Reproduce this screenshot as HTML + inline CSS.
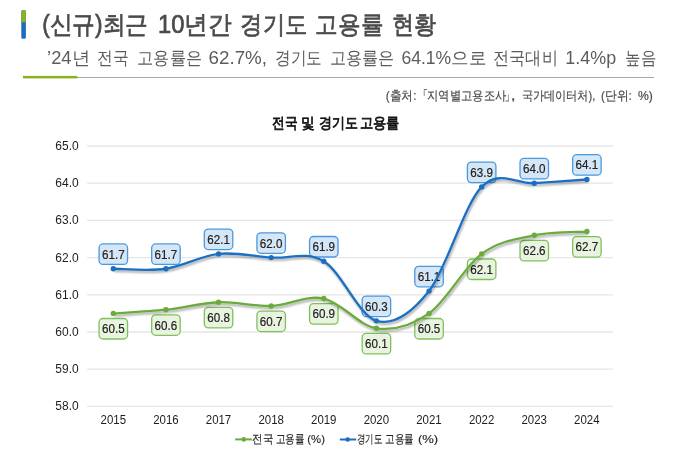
<!DOCTYPE html>
<html><head><meta charset="utf-8"><style>
html,body{margin:0;padding:0;background:#fff;width:677px;height:453px;overflow:hidden;position:relative}
svg text{font-family:"Liberation Sans",sans-serif}
svg{-webkit-font-smoothing:antialiased}
</style></head><body>
<svg width="677" height="453" viewBox="0 0 677 453" style="position:absolute;left:0;top:0;will-change:transform">
<path d="M21.3,38.7 V11.5 Q21.3,10 22.8,10 H24.4 Q25.9,10 25.9,11.5 V37.2 Q25.9,38.7 24.4,38.7 H22.8 Q21.3,38.7 21.3,37.2 Z" fill="#1c6cc0"/>
<path d="M21.3,22.3 V11.5 Q21.3,10 22.8,10 H24.4 Q25.9,10 25.9,11.5 V22.3 Z" fill="#8fb024"/>
<rect x="23" y="77" width="631" height="1" fill="#a9a9a9"/>
<rect x="23" y="75.9" width="54.3" height="2.5" fill="#8cb31f"/>
<defs><filter id="sh" x="-10%" y="-20%" width="120%" height="140%"><feGaussianBlur in="SourceAlpha" stdDeviation="0.8"/><feOffset dx="1" dy="1.6" result="o"/><feComponentTransfer><feFuncA type="linear" slope="0.35"/></feComponentTransfer><feMerge><feMergeNode/><feMergeNode in="SourceGraphic"/></feMerge></filter></defs><line x1="87.2" y1="406.40" x2="612.8" y2="406.40" stroke="#e6e6e6" stroke-width="1.3"/><text x="55.30" y="410.30" font-size="12.5" fill="#1e1e1e" textLength="23.34" lengthAdjust="spacingAndGlyphs">58.0</text><line x1="87.2" y1="369.20" x2="612.8" y2="369.20" stroke="#e6e6e6" stroke-width="1.3"/><text x="55.30" y="373.10" font-size="12.5" fill="#1e1e1e" textLength="23.34" lengthAdjust="spacingAndGlyphs">59.0</text><line x1="87.2" y1="332.00" x2="612.8" y2="332.00" stroke="#e6e6e6" stroke-width="1.3"/><text x="55.30" y="335.90" font-size="12.5" fill="#1e1e1e" textLength="23.34" lengthAdjust="spacingAndGlyphs">60.0</text><line x1="87.2" y1="294.80" x2="612.8" y2="294.80" stroke="#e6e6e6" stroke-width="1.3"/><text x="55.30" y="298.70" font-size="12.5" fill="#1e1e1e" textLength="23.34" lengthAdjust="spacingAndGlyphs">61.0</text><line x1="87.2" y1="257.60" x2="612.8" y2="257.60" stroke="#e6e6e6" stroke-width="1.3"/><text x="55.30" y="261.50" font-size="12.5" fill="#1e1e1e" textLength="23.34" lengthAdjust="spacingAndGlyphs">62.0</text><line x1="87.2" y1="220.40" x2="612.8" y2="220.40" stroke="#e6e6e6" stroke-width="1.3"/><text x="55.30" y="224.30" font-size="12.5" fill="#1e1e1e" textLength="23.34" lengthAdjust="spacingAndGlyphs">63.0</text><line x1="87.2" y1="183.20" x2="612.8" y2="183.20" stroke="#e6e6e6" stroke-width="1.3"/><text x="55.30" y="187.10" font-size="12.5" fill="#1e1e1e" textLength="23.34" lengthAdjust="spacingAndGlyphs">64.0</text><line x1="87.2" y1="146.00" x2="612.8" y2="146.00" stroke="#e6e6e6" stroke-width="1.3"/><text x="55.30" y="149.90" font-size="12.5" fill="#1e1e1e" textLength="23.34" lengthAdjust="spacingAndGlyphs">65.0</text><text x="100.54" y="423.6" font-size="12.1" fill="#1e1e1e" textLength="25.48" lengthAdjust="spacingAndGlyphs">2015</text><text x="153.16" y="423.6" font-size="12.1" fill="#1e1e1e" textLength="25.48" lengthAdjust="spacingAndGlyphs">2016</text><text x="205.78" y="423.6" font-size="12.1" fill="#1e1e1e" textLength="25.48" lengthAdjust="spacingAndGlyphs">2017</text><text x="258.40" y="423.6" font-size="12.1" fill="#1e1e1e" textLength="25.48" lengthAdjust="spacingAndGlyphs">2018</text><text x="311.02" y="423.6" font-size="12.1" fill="#1e1e1e" textLength="25.48" lengthAdjust="spacingAndGlyphs">2019</text><text x="363.64" y="423.6" font-size="12.1" fill="#1e1e1e" textLength="25.48" lengthAdjust="spacingAndGlyphs">2020</text><text x="416.26" y="423.6" font-size="12.1" fill="#1e1e1e" textLength="25.48" lengthAdjust="spacingAndGlyphs">2021</text><text x="468.88" y="423.6" font-size="12.1" fill="#1e1e1e" textLength="25.48" lengthAdjust="spacingAndGlyphs">2022</text><text x="521.50" y="423.6" font-size="12.1" fill="#1e1e1e" textLength="25.48" lengthAdjust="spacingAndGlyphs">2023</text><text x="574.12" y="423.6" font-size="12.1" fill="#1e1e1e" textLength="25.48" lengthAdjust="spacingAndGlyphs">2024</text><rect x="99.06" y="243.96" width="28.5" height="20.5" rx="4" fill="#d5e7f7" stroke="#4a99df" stroke-width="1.3"/><text x="102.00" y="258.76" font-size="12.7" fill="#222" stroke="#222" stroke-width="0.2" textLength="22.62" lengthAdjust="spacingAndGlyphs">61.7</text><rect x="151.68" y="243.96" width="28.5" height="20.5" rx="4" fill="#d5e7f7" stroke="#4a99df" stroke-width="1.3"/><text x="154.62" y="258.76" font-size="12.7" fill="#222" stroke="#222" stroke-width="0.2" textLength="22.62" lengthAdjust="spacingAndGlyphs">61.7</text><rect x="204.30" y="229.08" width="28.5" height="20.5" rx="4" fill="#d5e7f7" stroke="#4a99df" stroke-width="1.3"/><text x="207.24" y="243.88" font-size="12.7" fill="#222" stroke="#222" stroke-width="0.2" textLength="22.62" lengthAdjust="spacingAndGlyphs">62.1</text><rect x="256.92" y="232.80" width="28.5" height="20.5" rx="4" fill="#d5e7f7" stroke="#4a99df" stroke-width="1.3"/><text x="259.86" y="247.60" font-size="12.7" fill="#222" stroke="#222" stroke-width="0.2" textLength="22.62" lengthAdjust="spacingAndGlyphs">62.0</text><rect x="309.54" y="236.52" width="28.5" height="20.5" rx="4" fill="#d5e7f7" stroke="#4a99df" stroke-width="1.3"/><text x="312.48" y="251.32" font-size="12.7" fill="#222" stroke="#222" stroke-width="0.2" textLength="22.62" lengthAdjust="spacingAndGlyphs">61.9</text><rect x="362.16" y="296.04" width="28.5" height="20.5" rx="4" fill="#d5e7f7" stroke="#4a99df" stroke-width="1.3"/><text x="365.10" y="310.84" font-size="12.7" fill="#222" stroke="#222" stroke-width="0.2" textLength="22.62" lengthAdjust="spacingAndGlyphs">60.3</text><rect x="414.78" y="266.28" width="28.5" height="20.5" rx="4" fill="#d5e7f7" stroke="#4a99df" stroke-width="1.3"/><text x="417.72" y="281.08" font-size="12.7" fill="#222" stroke="#222" stroke-width="0.2" textLength="22.62" lengthAdjust="spacingAndGlyphs">61.1</text><rect x="467.40" y="162.12" width="28.5" height="20.5" rx="4" fill="#d5e7f7" stroke="#4a99df" stroke-width="1.3"/><text x="470.34" y="176.92" font-size="12.7" fill="#222" stroke="#222" stroke-width="0.2" textLength="22.62" lengthAdjust="spacingAndGlyphs">63.9</text><rect x="520.02" y="158.40" width="28.5" height="20.5" rx="4" fill="#d5e7f7" stroke="#4a99df" stroke-width="1.3"/><text x="522.96" y="173.20" font-size="12.7" fill="#222" stroke="#222" stroke-width="0.2" textLength="22.62" lengthAdjust="spacingAndGlyphs">64.0</text><rect x="572.64" y="154.68" width="28.5" height="20.5" rx="4" fill="#d5e7f7" stroke="#4a99df" stroke-width="1.3"/><text x="575.58" y="169.48" font-size="12.7" fill="#222" stroke="#222" stroke-width="0.2" textLength="22.62" lengthAdjust="spacingAndGlyphs">64.1</text><rect x="99.06" y="318.50" width="28.5" height="20.5" rx="4" fill="#e9f4e0" stroke="#80c05c" stroke-width="1.3"/><text x="102.00" y="333.30" font-size="12.7" fill="#222" stroke="#222" stroke-width="0.2" textLength="22.62" lengthAdjust="spacingAndGlyphs">60.5</text><rect x="151.68" y="314.78" width="28.5" height="20.5" rx="4" fill="#e9f4e0" stroke="#80c05c" stroke-width="1.3"/><text x="154.62" y="329.58" font-size="12.7" fill="#222" stroke="#222" stroke-width="0.2" textLength="22.62" lengthAdjust="spacingAndGlyphs">60.6</text><rect x="204.30" y="307.34" width="28.5" height="20.5" rx="4" fill="#e9f4e0" stroke="#80c05c" stroke-width="1.3"/><text x="207.24" y="322.14" font-size="12.7" fill="#222" stroke="#222" stroke-width="0.2" textLength="22.62" lengthAdjust="spacingAndGlyphs">60.8</text><rect x="256.92" y="311.06" width="28.5" height="20.5" rx="4" fill="#e9f4e0" stroke="#80c05c" stroke-width="1.3"/><text x="259.86" y="325.86" font-size="12.7" fill="#222" stroke="#222" stroke-width="0.2" textLength="22.62" lengthAdjust="spacingAndGlyphs">60.7</text><rect x="309.54" y="303.62" width="28.5" height="20.5" rx="4" fill="#e9f4e0" stroke="#80c05c" stroke-width="1.3"/><text x="312.48" y="318.42" font-size="12.7" fill="#222" stroke="#222" stroke-width="0.2" textLength="22.62" lengthAdjust="spacingAndGlyphs">60.9</text><rect x="362.16" y="333.38" width="28.5" height="20.5" rx="4" fill="#e9f4e0" stroke="#80c05c" stroke-width="1.3"/><text x="365.10" y="348.18" font-size="12.7" fill="#222" stroke="#222" stroke-width="0.2" textLength="22.62" lengthAdjust="spacingAndGlyphs">60.1</text><rect x="414.78" y="318.50" width="28.5" height="20.5" rx="4" fill="#e9f4e0" stroke="#80c05c" stroke-width="1.3"/><text x="417.72" y="333.30" font-size="12.7" fill="#222" stroke="#222" stroke-width="0.2" textLength="22.62" lengthAdjust="spacingAndGlyphs">60.5</text><rect x="467.40" y="258.98" width="28.5" height="20.5" rx="4" fill="#e9f4e0" stroke="#80c05c" stroke-width="1.3"/><text x="470.34" y="273.78" font-size="12.7" fill="#222" stroke="#222" stroke-width="0.2" textLength="22.62" lengthAdjust="spacingAndGlyphs">62.1</text><rect x="520.02" y="240.38" width="28.5" height="20.5" rx="4" fill="#e9f4e0" stroke="#80c05c" stroke-width="1.3"/><text x="522.96" y="255.18" font-size="12.7" fill="#222" stroke="#222" stroke-width="0.2" textLength="22.62" lengthAdjust="spacingAndGlyphs">62.6</text><rect x="572.64" y="236.66" width="28.5" height="20.5" rx="4" fill="#e9f4e0" stroke="#80c05c" stroke-width="1.3"/><text x="575.58" y="251.46" font-size="12.7" fill="#222" stroke="#222" stroke-width="0.2" textLength="22.62" lengthAdjust="spacingAndGlyphs">62.7</text><path d="M113.31,313.40 C122.08,312.78 148.39,311.54 165.93,309.68 C183.47,307.82 201.01,302.86 218.55,302.24 C236.09,301.62 253.63,306.58 271.17,305.96 C288.71,305.34 306.25,294.80 323.79,298.52 C341.33,302.24 358.87,325.80 376.41,328.28 C393.95,330.76 411.49,325.80 429.03,313.40 C446.57,301.00 464.11,266.90 481.65,253.88 C499.19,240.86 516.73,239.00 534.27,235.28 C551.81,231.56 578.12,232.18 586.89,231.56" fill="none" stroke="#6aab3c" stroke-width="2.3" filter="url(#sh)"/><path d="M113.31,268.76 C122.08,268.76 148.39,271.24 165.93,268.76 C183.47,266.28 201.01,255.74 218.55,253.88 C236.09,252.02 253.63,256.36 271.17,257.60 C288.71,258.84 306.25,250.78 323.79,261.32 C341.33,271.86 358.87,315.88 376.41,320.84 C393.95,325.80 411.49,313.40 429.03,291.08 C446.57,268.76 464.11,204.90 481.65,186.92 C499.19,168.94 516.73,184.44 534.27,183.20 C551.81,181.96 578.12,180.10 586.89,179.48" fill="none" stroke="#1a6fc1" stroke-width="2.3" filter="url(#sh)"/><circle cx="113.31" cy="313.40" r="2.7" fill="#6aab3c"/><circle cx="165.93" cy="309.68" r="2.7" fill="#6aab3c"/><circle cx="218.55" cy="302.24" r="2.7" fill="#6aab3c"/><circle cx="271.17" cy="305.96" r="2.7" fill="#6aab3c"/><circle cx="323.79" cy="298.52" r="2.7" fill="#6aab3c"/><circle cx="376.41" cy="328.28" r="2.7" fill="#6aab3c"/><circle cx="429.03" cy="313.40" r="2.7" fill="#6aab3c"/><circle cx="481.65" cy="253.88" r="2.7" fill="#6aab3c"/><circle cx="534.27" cy="235.28" r="2.7" fill="#6aab3c"/><circle cx="586.89" cy="231.56" r="2.7" fill="#6aab3c"/><circle cx="113.31" cy="268.76" r="2.7" fill="#1a6fc1"/><circle cx="165.93" cy="268.76" r="2.7" fill="#1a6fc1"/><circle cx="218.55" cy="253.88" r="2.7" fill="#1a6fc1"/><circle cx="271.17" cy="257.60" r="2.7" fill="#1a6fc1"/><circle cx="323.79" cy="261.32" r="2.7" fill="#1a6fc1"/><circle cx="376.41" cy="320.84" r="2.7" fill="#1a6fc1"/><circle cx="429.03" cy="291.08" r="2.7" fill="#1a6fc1"/><circle cx="481.65" cy="186.92" r="2.7" fill="#1a6fc1"/><circle cx="534.27" cy="183.20" r="2.7" fill="#1a6fc1"/><circle cx="586.89" cy="179.48" r="2.7" fill="#1a6fc1"/><line x1="235.2" y1="439.4" x2="251.9" y2="439.4" stroke="#6aab3c" stroke-width="2"/><circle cx="243.8" cy="439.4" r="2.3" fill="#6aab3c"/><line x1="339.8" y1="439.5" x2="356.2" y2="439.5" stroke="#1a6fc1" stroke-width="2"/><circle cx="347.7" cy="439.5" r="2.3" fill="#1a6fc1"/>
<text x="42.14" y="33.0" font-size="25" font-weight="400" fill="#4a4a4a" stroke="#4a4a4a" stroke-width="0.7" textLength="105.99" lengthAdjust="spacingAndGlyphs">(신규)최근</text><text x="158.10" y="33.0" font-size="25" font-weight="400" fill="#4a4a4a" stroke="#4a4a4a" stroke-width="0.7" textLength="73.76" lengthAdjust="spacingAndGlyphs">10년간</text><text x="240.32" y="33.0" font-size="25" font-weight="400" fill="#4a4a4a" stroke="#4a4a4a" stroke-width="0.7" textLength="66.87" lengthAdjust="spacingAndGlyphs">경기도</text><text x="315.32" y="33.0" font-size="25" font-weight="400" fill="#4a4a4a" stroke="#4a4a4a" stroke-width="0.7" textLength="67.89" lengthAdjust="spacingAndGlyphs">고용률</text><text x="392.03" y="33.0" font-size="25" font-weight="400" fill="#4a4a4a" stroke="#4a4a4a" stroke-width="0.7" textLength="44.13" lengthAdjust="spacingAndGlyphs">현황</text><text x="47.12" y="63.8" font-size="18" font-weight="400" fill="#5c5c5c"  textLength="42.74" lengthAdjust="spacingAndGlyphs">’24년</text><text x="97.00" y="63.8" font-size="18" font-weight="400" fill="#5c5c5c"  textLength="31.57" lengthAdjust="spacingAndGlyphs">전국</text><text x="137.37" y="63.8" font-size="18" font-weight="400" fill="#5c5c5c"  textLength="64.52" lengthAdjust="spacingAndGlyphs">고용률은</text><text x="208.56" y="63.8" font-size="18" font-weight="400" fill="#5c5c5c"  textLength="58.49" lengthAdjust="spacingAndGlyphs">62.7%,</text><text x="275.15" y="63.8" font-size="18" font-weight="400" fill="#5c5c5c"  textLength="47.01" lengthAdjust="spacingAndGlyphs">경기도</text><text x="330.07" y="63.8" font-size="18" font-weight="400" fill="#5c5c5c"  textLength="64.42" lengthAdjust="spacingAndGlyphs">고용률은</text><text x="401.42" y="63.8" font-size="18" font-weight="400" fill="#5c5c5c"  textLength="84.90" lengthAdjust="spacingAndGlyphs">64.1%으로</text><text x="493.17" y="63.8" font-size="18" font-weight="400" fill="#5c5c5c"  textLength="64.55" lengthAdjust="spacingAndGlyphs">전국대비</text><text x="565.27" y="63.8" font-size="18" font-weight="400" fill="#5c5c5c"  textLength="50.85" lengthAdjust="spacingAndGlyphs">1.4%p</text><text x="625.42" y="63.8" font-size="18" font-weight="400" fill="#5c5c5c"  textLength="30.81" lengthAdjust="spacingAndGlyphs">높음</text><text x="385.79" y="100.1" font-size="13" font-weight="400" fill="#4c4c4c" stroke="#4c4c4c" stroke-width="0.2" textLength="30.78" lengthAdjust="spacingAndGlyphs">(출처:</text><text x="417.70" y="100.1" font-size="13" font-weight="400" fill="#4c4c4c" stroke="#4c4c4c" stroke-width="0.2" textLength="10.00" lengthAdjust="spacingAndGlyphs">「</text><text x="427.22" y="100.1" font-size="13" font-weight="400" fill="#4c4c4c" stroke="#4c4c4c" stroke-width="0.2" textLength="78.91" lengthAdjust="spacingAndGlyphs">지역별고용조사</text><text x="504.60" y="100.1" font-size="13" font-weight="400" fill="#4c4c4c" stroke="#4c4c4c" stroke-width="0.2" textLength="9.00" lengthAdjust="spacingAndGlyphs">」</text><text x="510.49" y="100.1" font-size="13" font-weight="400" fill="#4c4c4c" stroke="#4c4c4c" stroke-width="0.2" textLength="5.28" lengthAdjust="spacingAndGlyphs">,</text><text x="521.62" y="100.1" font-size="13" font-weight="400" fill="#4c4c4c" stroke="#4c4c4c" stroke-width="0.2" textLength="73.80" lengthAdjust="spacingAndGlyphs">국가데이터처),</text><text x="600.99" y="100.1" font-size="13" font-weight="400" fill="#4c4c4c" stroke="#4c4c4c" stroke-width="0.2" textLength="30.78" lengthAdjust="spacingAndGlyphs">(단위:</text><text x="637.91" y="100.1" font-size="13" font-weight="400" fill="#4c4c4c" stroke="#4c4c4c" stroke-width="0.2" textLength="14.84" lengthAdjust="spacingAndGlyphs">%)</text><text x="272.41" y="128.4" font-size="14.8" font-weight="400" fill="#111111" stroke="#111111" stroke-width="0.75" textLength="25.41" lengthAdjust="spacingAndGlyphs">전국</text><text x="301.49" y="128.4" font-size="14.8" font-weight="400" fill="#111111" stroke="#111111" stroke-width="0.75" textLength="13.70" lengthAdjust="spacingAndGlyphs">및</text><text x="318.76" y="128.4" font-size="14.8" font-weight="400" fill="#111111" stroke="#111111" stroke-width="0.75" textLength="39.08" lengthAdjust="spacingAndGlyphs">경기도</text><text x="359.97" y="128.4" font-size="14.8" font-weight="400" fill="#111111" stroke="#111111" stroke-width="0.75" textLength="39.79" lengthAdjust="spacingAndGlyphs">고용률</text><text x="252.47" y="442.6" font-size="11.8" font-weight="400" fill="#262626" stroke="#262626" stroke-width="0.15" textLength="20.97" lengthAdjust="spacingAndGlyphs">전국</text><text x="275.62" y="442.6" font-size="11.8" font-weight="400" fill="#262626" stroke="#262626" stroke-width="0.15" textLength="29.05" lengthAdjust="spacingAndGlyphs">고용률</text><text x="307.32" y="442.6" font-size="11.8" font-weight="400" fill="#262626" stroke="#262626" stroke-width="0.15" textLength="17.62" lengthAdjust="spacingAndGlyphs">(%)</text><text x="356.83" y="442.6" font-size="11.8" font-weight="400" fill="#262626" stroke="#262626" stroke-width="0.15" textLength="25.25" lengthAdjust="spacingAndGlyphs">경기도</text><text x="385.23" y="442.6" font-size="11.8" font-weight="400" fill="#262626" stroke="#262626" stroke-width="0.15" textLength="28.84" lengthAdjust="spacingAndGlyphs">고용률</text><text x="417.92" y="442.6" font-size="11.8" font-weight="400" fill="#262626" stroke="#262626" stroke-width="0.15" textLength="20.23" lengthAdjust="spacingAndGlyphs">(%)</text>
</svg>
</body></html>
